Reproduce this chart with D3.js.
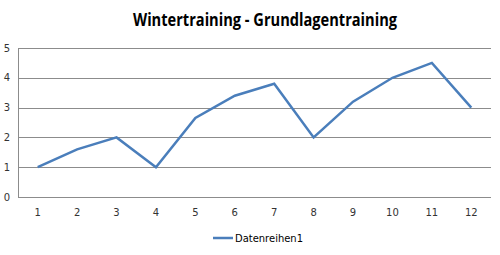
<!DOCTYPE html>
<html>
<head>
<meta charset="utf-8">
<script src="https://cdn.jsdelivr.net/npm/d3@7"></script>
<style>
  body { margin: 0; background: #fff; }
</style>
</head>
<body>
<div class="canvas"></div>
<script>
// chart data
let categories = ['1', '2', '3', '4', '5', '6', '7', '8', '9', '10', '11', '12'];
let values = [1, 1.6, 2, 1, 2.65, 3.4, 3.8, 2, 3.2, 4, 4.5, 3];
let yTicks = [0, 1, 2, 3, 4, 5];
let seriesName = 'Datenreihen1';
let title = 'Wintertraining - Grundlagentraining';

var svg = d3.select(".canvas").append("svg").attr("width", 500).attr("height", 255)

let x = d3.scaleBand().domain(categories).range([18, 491]);
let y = d3.scaleLinear().domain([0, 5]).range([197, 48]);

// gridlines
svg.append('g')
    .attr('transform', 'translate(18,0)')
    .call(d3.axisLeft(y).tickValues(yTicks).tickSize(-473).tickFormat(''))
    .call(g => g.select('.domain').remove())
    .selectAll('line')
    .attr('stroke', '#8c8c8c')
    .attr('stroke-width', 1)
    .attr('shape-rendering', 'crispEdges');

// y axis line
svg.append('line')
    .attr('x1', 18.5).attr('x2', 18.5)
    .attr('y1', y(5)).attr('y2', y(0))
    .attr('stroke', '#8c8c8c')
    .attr('stroke-width', 1);

// y labels
svg.append('g')
    .selectAll('text')
    .data(yTicks)
    .join('text')
    .text(d => d)
    .attr('x', 7)
    .attr('y', d => y(d) + 3.5)
    .attr('text-anchor', 'middle')
    .attr('font-size', 10)
    .attr('font-family', 'DejaVu Sans')
    .attr('fill', '#333');

// x labels
svg.append('g')
    .selectAll('text')
    .data(categories)
    .join('text')
    .text(d => d)
    .attr('x', d => x(d) + x.bandwidth() / 2)
    .attr('y', 216)
    .attr('text-anchor', 'middle')
    .attr('font-size', 10)
    .attr('font-family', 'DejaVu Sans')
    .attr('fill', '#333');

// series line
let line = d3.line()
    .x((d, i) => x(categories[i]) + x.bandwidth() / 2)
    .y(d => y(d));

svg.append('path')
    .datum(values)
    .attr('d', line)
    .attr('fill', 'none')
    .attr('stroke', '#4a7ebb')
    .attr('stroke-width', 2.5)
    .attr('stroke-linejoin', 'miter');

// title
svg.append('text')
    .text(title)
    .attr('x', 265)
    .attr('y', 26)
    .attr('text-anchor', 'middle')
    .attr('font-size', 18)
    .attr('font-weight', 'bold')
    .attr('font-family', 'Open Sans')
    .attr('textLength', 264)
    .attr('lengthAdjust', 'spacingAndGlyphs')
    .attr('fill', '#000');

// legend
svg.append('line')
    .attr('x1', 213).attr('x2', 233)
    .attr('y1', 238).attr('y2', 238)
    .attr('stroke', '#4a7ebb')
    .attr('stroke-width', 2.5);

svg.append('text')
    .text(seriesName)
    .attr('x', 235)
    .attr('y', 241.5)
    .attr('font-size', 10)
    .attr('font-family', 'DejaVu Sans')
    .attr('textLength', 68)
    .attr('lengthAdjust', 'spacingAndGlyphs')
    .attr('fill', '#000');
</script>
</body>
</html>
